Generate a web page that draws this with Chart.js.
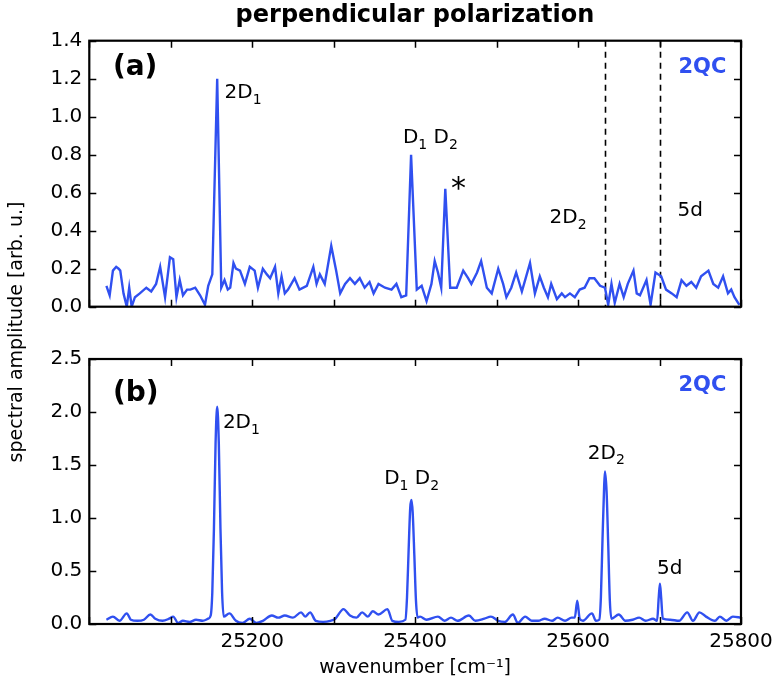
<!DOCTYPE html>
<html>
<head>
<meta charset="utf-8">
<script src="https://cdn.jsdelivr.net/npm/chart.js@4.4.1/dist/chart.umd.min.js"></script>
<style>
  body { margin: 0; background: #fff; }
  #wrap { position: relative; width: 780px; height: 683px; font-family: 'DejaVu Sans', sans-serif; }
  canvas { position: absolute; left: 0; }
  #title { position: absolute; left: 89px; width: 652px; top: 0px; text-align: center; font-weight: bold; font-size: 24px; }
  #ylabel { position: absolute; left: -185px; top: 321px; width: 400px; line-height: 22px; text-align: center; font-size: 19px; transform: rotate(-90deg); }
</style>
</head>
<body>
<div id="wrap">
  <canvas id="chartA" width="780" height="330" style="top:0"></canvas>
  <canvas id="chartB" width="780" height="343" style="top:340px"></canvas>
  <div id="title">perpendicular polarization</div>
  <div id="ylabel">spectral amplitude [arb. u.]</div>
</div>
<script>
// panel (a): noisy 2QC spectrum
const waveA = [25021, 25025, 25029, 25033, 25036, 25038, 25042, 25046, 25049, 25052, 25056, 25062, 25070, 25076, 25082,
  25087, 25093, 25099, 25103, 25107, 25111, 25115, 25120, 25124, 25130, 25136, 25142, 25146, 25151, 25157, 25162,
  25166, 25170, 25173, 25177, 25180, 25185, 25191, 25197, 25203, 25207, 25213, 25218, 25222, 25228, 25232, 25236,
  25240, 25244, 25252, 25258, 25267, 25275, 25279, 25283, 25289, 25297, 25303, 25308, 25314, 25320, 25326, 25332,
  25338, 25344, 25349, 25355, 25363, 25371, 25377, 25383, 25389, 25395, 25402, 25408, 25414, 25420, 25424, 25428,
  25432, 25437, 25443, 25451, 25459, 25465, 25469, 25476, 25481, 25488, 25494, 25502, 25508, 25512, 25518, 25524,
  25531, 25535, 25541, 25547, 25553, 25558, 25563, 25567, 25574, 25580, 25584, 25590, 25596, 25602, 25608, 25614,
  25620, 25627, 25633, 25637, 25641, 25645, 25651, 25656, 25661, 25668, 25672, 25676, 25684, 25689, 25695, 25702,
  25708, 25715, 25721, 25727, 25733, 25739, 25745, 25751, 25760, 25766, 25772, 25778, 25784, 25788, 25792, 25798];
const ampA = [0.11, 0.06, 0.19, 0.21, 0.20, 0.19, 0.07, 0.00, 0.10, 0.00, 0.05, 0.07, 0.10, 0.08, 0.12,
  0.21, 0.05, 0.26, 0.25, 0.05, 0.14, 0.06, 0.09, 0.09, 0.10, 0.06, 0.01, 0.11, 0.17, 1.20, 0.10,
  0.14, 0.09, 0.10, 0.23, 0.20, 0.19, 0.12, 0.21, 0.19, 0.10, 0.20, 0.17, 0.15, 0.21, 0.07, 0.16,
  0.07, 0.09, 0.15, 0.09, 0.11, 0.21, 0.12, 0.17, 0.12, 0.32, 0.19, 0.07, 0.12, 0.15, 0.12, 0.15,
  0.10, 0.13, 0.07, 0.12, 0.10, 0.09, 0.12, 0.05, 0.06, 0.80, 0.09, 0.11, 0.03, 0.12, 0.24, 0.18,
  0.10, 0.62, 0.10, 0.10, 0.19, 0.15, 0.12, 0.18, 0.24, 0.10, 0.07, 0.20, 0.12, 0.05, 0.10, 0.18,
  0.08, 0.14, 0.23, 0.07, 0.16, 0.10, 0.05, 0.12, 0.04, 0.07, 0.05, 0.07, 0.05, 0.09, 0.10, 0.15,
  0.15, 0.11, 0.10, 0.01, 0.12, 0.02, 0.12, 0.05, 0.12, 0.19, 0.07, 0.06, 0.14, 0.01, 0.18, 0.16,
  0.09, 0.07, 0.05, 0.14, 0.11, 0.13, 0.10, 0.16, 0.19, 0.12, 0.10, 0.16, 0.07, 0.09, 0.05, 0.01];

// panel (b)
const waveB = [25021, 25029, 25037, 25046, 25051, 25059, 25067, 25075, 25081, 25090, 25098, 25103, 25109, 25115,
  25123, 25131, 25139, 25146, 25149, 25151, 25153, 25155, 25157, 25159, 25161, 25163, 25165, 25172, 25180, 25188,
  25197, 25205, 25213, 25224, 25232, 25240, 25250, 25260, 25265, 25271, 25278, 25287, 25296, 25302, 25312, 25320,
  25328, 25335, 25342, 25348, 25355, 25366, 25372, 25380, 25388, 25390, 25392, 25394, 25395.5, 25397, 25399, 25401,
  25403, 25406, 25414, 25428, 25436, 25444, 25452, 25466, 25474, 25485, 25493, 25502, 25510, 25520, 25526, 25535,
  25543, 25551, 25559, 25568, 25575, 25584, 25592, 25596, 25599, 25602, 25606, 25617, 25622, 25626, 25628, 25630,
  25632, 25633, 25635, 25637, 25639, 25641, 25650, 25658, 25667, 25675, 25683, 25692, 25697, 25699, 25700.5, 25702,
  25704, 25713, 25724, 25734, 25741, 25749, 25757, 25768, 25774, 25782, 25790, 25800];
const ampB = [0.04, 0.07, 0.03, 0.10, 0.04, 0.03, 0.04, 0.09, 0.05, 0.03, 0.05, 0.07, 0.01, 0.03,
  0.02, 0.04, 0.03, 0.05, 0.08, 0.30, 0.90, 1.70, 2.05, 1.70, 0.90, 0.30, 0.07, 0.10, 0.03, 0.01,
  0.05, 0.01, 0.03, 0.08, 0.06, 0.08, 0.06, 0.11, 0.07, 0.11, 0.03, 0.02, 0.03, 0.05, 0.14, 0.08,
  0.06, 0.11, 0.07, 0.12, 0.09, 0.14, 0.03, 0.02, 0.04, 0.25, 0.70, 1.10, 1.17, 1.05, 0.65, 0.22,
  0.06, 0.07, 0.04, 0.07, 0.03, 0.06, 0.03, 0.08, 0.03, 0.05, 0.07, 0.03, 0.02, 0.09, 0.01, 0.07,
  0.03, 0.03, 0.05, 0.03, 0.06, 0.03, 0.06, 0.06, 0.22, 0.05, 0.03, 0.10, 0.03, 0.04, 0.25, 0.80,
  1.30, 1.44, 1.25, 0.75, 0.22, 0.05, 0.09, 0.03, 0.04, 0.06, 0.03, 0.05, 0.03, 0.25, 0.38, 0.25,
  0.05, 0.04, 0.03, 0.11, 0.03, 0.11, 0.07, 0.03, 0.07, 0.03, 0.07, 0.06];

const xTicks = [25200, 25400, 25600, 25800];
const dashLinesA = [25633, 25700.5];

const BLUE = '#3050f0';
const FONT = "'DejaVu Sans', sans-serif";

// text labels placed in data coordinates
const notesA = [
  { x: 25029, y: 1.26, parts: [['(a)']], size: 28, bold: true, base: 'middle' },
  { x: 25166, y: 1.097, parts: [['2D'], ['1', 1]], size: 20 },
  { x: 25385, y: 0.86, parts: [['D'], ['1', 1], [' D'], ['2', 1]], size: 20 },
  { x: 25444, y: 0.57, parts: [['*']], size: 30 },
  { x: 25565, y: 0.44, parts: [['2D'], ['2', 1]], size: 20 },
  { x: 25722, y: 0.475, parts: [['5d']], size: 20 },
  { x: 25782, y: 1.23, parts: [['2QC']], size: 21, bold: true, color: BLUE, align: 'right' }
];
const notesB = [
  { x: 25029, y: 2.17, parts: [['(b)']], size: 28, bold: true, base: 'middle' },
  { x: 25164, y: 1.85, parts: [['2D'], ['1', 1]], size: 20 },
  { x: 25362, y: 1.32, parts: [['D'], ['1', 1], [' D'], ['2', 1]], size: 20 },
  { x: 25612, y: 1.56, parts: [['2D'], ['2', 1]], size: 20 },
  { x: 25697, y: 0.47, parts: [['5d']], size: 20 },
  { x: 25782, y: 2.2, parts: [['2QC']], size: 21, bold: true, color: BLUE, align: 'right' }
];

const toPoints = (xs, ys) => xs.map((x, i) => ({ x, y: ys[i] }));

const drawNote = (ctx, n, px, py) => {
  const weight = n.bold ? 'bold ' : '';
  const fontFor = sub => `${weight}${sub ? Math.round(n.size * 0.7) : n.size}px ${FONT}`;
  let total = 0;
  n.parts.forEach(([t, sub]) => { ctx.font = fontFor(sub); total += ctx.measureText(t).width; });
  let cx = n.align === 'right' ? px - total : px;
  ctx.fillStyle = n.color || '#000';
  ctx.textBaseline = n.base || 'alphabetic';
  ctx.textAlign = 'left';
  n.parts.forEach(([t, sub]) => {
    ctx.font = fontFor(sub);
    ctx.fillText(t, cx, py + (sub ? n.size * 0.28 : 0));
    cx += ctx.measureText(t).width;
  });
};

const framePlugin = {
  id: 'frame',
  beforeDatasetsDraw(chart, args, opts) {
    const { ctx, chartArea: a, scales } = chart;
    if (!opts.dashes) return;
    ctx.save();
    ctx.strokeStyle = '#000';
    ctx.lineWidth = 1.6;
    ctx.setLineDash([6, 5]);
    opts.dashes.forEach(v => {
      const px = Math.round(scales.x.getPixelForValue(v)) + 0.5;
      ctx.beginPath();
      ctx.moveTo(px, a.top);
      ctx.lineTo(px, a.bottom);
      ctx.stroke();
    });
    ctx.restore();
  },
  afterDatasetsDraw(chart, args, opts) {
    const { ctx, chartArea: a, scales } = chart;
    const len = 7;
    ctx.save();
    ctx.strokeStyle = '#000';
    ctx.lineWidth = 1.5;
    scales.x.ticks.forEach(t => {
      const px = Math.round(scales.x.getPixelForValue(t.value)) + 0.5;
      ctx.beginPath();
      ctx.moveTo(px, a.bottom); ctx.lineTo(px, a.bottom - len);
      ctx.moveTo(px, a.top); ctx.lineTo(px, a.top + len);
      ctx.stroke();
    });
    scales.y.ticks.forEach(t => {
      const py = Math.round(scales.y.getPixelForValue(t.value)) + 0.5;
      ctx.beginPath();
      ctx.moveTo(a.left, py); ctx.lineTo(a.left + len, py);
      ctx.moveTo(a.right, py); ctx.lineTo(a.right - len, py);
      ctx.stroke();
    });
    ctx.lineWidth = 2.2;
    ctx.strokeRect(a.left, a.top, a.right - a.left, a.bottom - a.top);
    (opts.notes || []).forEach(n => {
      drawNote(ctx, n, scales.x.getPixelForValue(n.x), scales.y.getPixelForValue(n.y));
    });
    ctx.restore();
  }
};

const makeChart = (id, points, yMax, yStep, showX, notes, dashes, padding, monotone) => new Chart(document.getElementById(id), {
  type: 'line',
  data: {
    datasets: [{
      data: points,
      borderColor: BLUE,
      borderWidth: 2.4,
      pointRadius: 0,
      fill: false,
      tension: 0,
      cubicInterpolationMode: monotone ? 'monotone' : 'default'
    }]
  },
  options: {
    responsive: false,
    animation: false,
    devicePixelRatio: 1,
    layout: { padding },
    plugins: {
      legend: { display: false },
      tooltip: { enabled: false },
      frame: { notes, dashes }
    },
    scales: {
      x: {
        type: 'linear',
        min: 25000,
        max: 25800,
        display: showX,
        grid: { display: false, drawTicks: false },
        border: { display: false },
        ticks: {
          stepSize: 100,
          autoSkip: false,
          maxRotation: 0,
          padding: 6,
          color: '#000',
          font: { family: FONT, size: 20 },
          callback: v => xTicks.includes(v) ? String(v) : ''
        },
        title: {
          display: showX,
          text: 'wavenumber [cm⁻¹]',
          color: '#000',
          font: { family: FONT, size: 19 },
          padding: { top: 0, bottom: 4 }
        },
        afterFit: s => { s.height = showX ? 59 : 0; }
      },
      y: {
        min: 0,
        max: yMax,
        grid: { display: false, drawTicks: false },
        border: { display: false },
        ticks: {
          stepSize: yStep,
          padding: 7,
          color: '#000',
          font: { family: FONT, size: 20 },
          callback: v => v.toFixed(1)
        },
        afterFit: s => { s.width = 89.3; }
      }
    }
  },
  plugins: [framePlugin]
});

makeChart('chartA', toPoints(waveA, ampA), 1.4, 0.2, false, notesA, dashLinesA,
  { top: 40.7, right: 39, bottom: 23.3, left: 0 }, false);
makeChart('chartB', toPoints(waveB, ampB), 2.5, 0.5, true, notesB, null,
  { top: 17.5, right: 39, bottom: 0, left: 0 }, true);
</script>
</body>
</html>
